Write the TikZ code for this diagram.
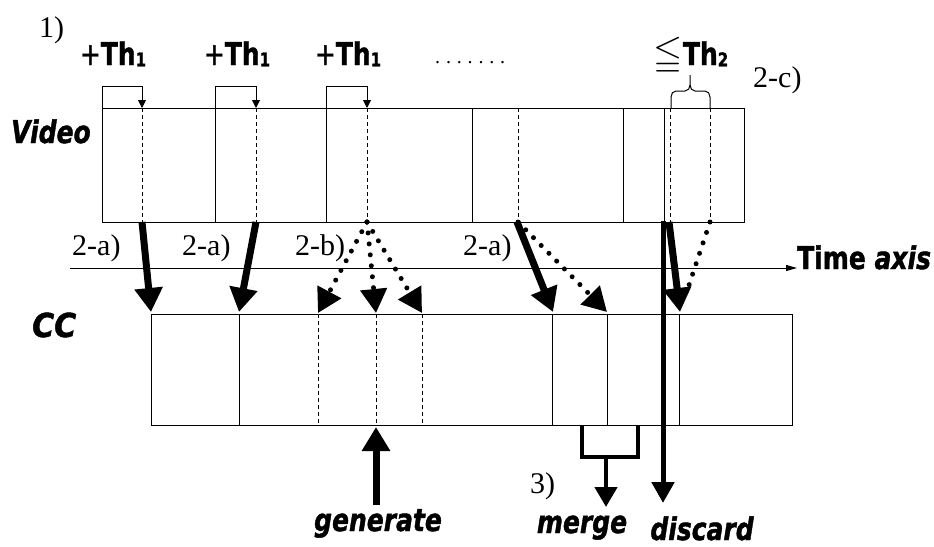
\documentclass[tikz,border=0pt]{standalone}
\usepackage{amssymb}
\usepackage{fontspec}
\setmainfont{Liberation Serif}
\newfontfamily\labfont{DejaVu Sans}[FakeBold=1.5]
\usetikzlibrary{arrows.meta}
% heavy display lettering: a little taller than the plain face
\newcommand{\tallbox}[2][1.25]{\scalebox{1}[#1]{#2}}
\newcommand{\thone}{\tallbox{\mdseries+\bfseries Th\raisebox{-1pt}{\fontsize{15}{15}\selectfont 1}}}

\begin{document}
\begin{tikzpicture}[x=1pt,y=-1pt,
  thinline/.style={line width=1pt},
  seg/.style={line width=0.9pt, dash pattern=on 4pt off 3pt},
  bigarrow/.style={line width=7pt, -{Triangle[width=27pt,length=24pt]}},
  dotarrow/.style={line width=5pt, line cap=round, dash pattern=on 0pt off 11pt,
                   -{Triangle[width=26pt,length=24pt]}},
  dotline/.style={line width=5pt, line cap=round, dash pattern=on 0pt off 11pt},
  tharrow/.style={thinline, -{Triangle[width=8pt,length=8pt]}},
  bold/.style={inner sep=0pt, font=\labfont\bfseries\fontsize{25}{25}\selectfont},
  boldit/.style={inner sep=0pt, font=\labfont\bfseries\itshape\fontsize{25}{25}\selectfont},
  num/.style={inner sep=0pt, font=\fontsize{30}{30}\selectfont},
  box/.style={draw, thinline, inner sep=0pt}
]
\useasboundingbox (0,0) rectangle (934,546);

% ---- the two strips -------------------------------------------------
\node[box, minimum width=642pt, minimum height=114pt] (video) at (423,165) {};
\node[box, minimum width=641pt, minimum height=111pt] (cc) at (471.5,369.5) {};

% shot boundaries of the video strip
\foreach \x in {215,326,472,623,664} \draw[thinline] (\x,108) -- (\x,222);
\foreach \x in {142,256,367,518,670,710} \draw[seg] (\x,108) -- (\x,222);
% caption boundaries of the CC strip
\foreach \x in {239,552,607,679} \draw[thinline] (\x,314) -- (\x,425);
\foreach \x in {318,376,422} \draw[seg] (\x,314) -- (\x,425);

% ---- labels --------------------------------------------------------
\node[boldit, anchor=base west] (lvideo) at (11,143) {\tallbox{Video}};
\node[inner sep=0pt, font=\labfont\bfseries\itshape\fontsize{30}{30}\selectfont,
      anchor=base west] (lcc) at (32,337) {\tallbox[1.1]{CC}};
\node[num, anchor=base west] (step1) at (39,37) {1)};

\node[bold, anchor=base] (th1a) at (113,65) {\thone};
\node[bold, anchor=base] (th1b) at (237,65) {\thone};
\node[bold, anchor=base] (th1c) at (348,65) {\thone};
\node[inner sep=0pt, font=\fontsize{20}{20}\selectfont, anchor=base west] (dots) at (435,63)
  {\makebox[70pt]{.\hfill.\hfill.\hfill.\hfill.\hfill.\hfill.}};
\node[bold, anchor=base] (th2) at (691,65)
  {\scalebox{1.5}{$\leqq$}\tallbox{Th\raisebox{-1pt}{\fontsize{15}{15}\selectfont 2}}};
\node[num, anchor=base west] (s2c) at (753,87) {2-c)};

\node[num, anchor=base west] (s2a1) at (72,255) {2-a)};
\node[num, anchor=base west] (s2a2) at (182,255) {2-a)};
\node[num, anchor=base west] (s2b)  at (295,255) {2-b)};
\node[num, anchor=base west] (s2a3) at (463,255) {2-a)};
\node[num, anchor=base west] (s3)   at (530,493) {3)};

\node[inner sep=0pt, font=\labfont\bfseries\fontsize{25}{25}\selectfont, anchor=base west]
  (taxis) at (797,269) {\tallbox{Time \itshape axis}};
\node[boldit, anchor=base] (lgen) at (378,531) {\tallbox{generate}};
\node[boldit, anchor=base] (lmerge) at (582,533) {\tallbox{merge}};
\node[boldit, anchor=base] (ldisc) at (702,540) {\tallbox{discard}};

% ---- threshold brackets on top of the video strip -------------------
\coordinate (b1) at (102,108); \coordinate (e1) at (142,108);
\coordinate (b2) at (215,108); \coordinate (e2) at (256,108);
\coordinate (b3) at (326,108); \coordinate (e3) at (367,108);
\draw[tharrow] (b1) |- (142,86) -- (e1);
\draw[tharrow] (b2) |- (256,86) -- (e2);
\draw[tharrow] (b3) |- (367,86) -- (e3);

% brace for Th2
\coordinate (brl) at (671,108); \coordinate (brr) at (710,108);
\draw[thinline] (brl) -- (671,97) to[out=90,in=180] (676,91) -- (685,91)
  to[out=0,in=-90] (690,85) -- (690,75);
\draw[thinline] (brr) -- (710,97) to[out=90,in=0] (705,91) -- (695,91)
  to[out=180,in=-90] (690,85);

% ---- time axis ----------------------------------------------------
\coordinate (tstart) at (70,268);
\draw[thinline, -{Triangle[width=6pt,length=11pt]}] (tstart) -- (taxis.west |- tstart);

% ---- mapping arrows from video to CC --------------------------------
\coordinate (v1) at (142,222); \coordinate (c1) at (151,312);
\coordinate (v2) at (256,222); \coordinate (c2) at (239,312);
\coordinate (v3) at (367,222);
\coordinate (c3l) at (318,313); \coordinate (c3m) at (376,313); \coordinate (c3r) at (422,313);
\coordinate (v4) at (517,222); \coordinate (c4) at (553,312);
\coordinate (v4d) at (518,222); \coordinate (c4d) at (607,312);
\coordinate (v5) at (669,222); \coordinate (c5) at (680,312);
\coordinate (v5d) at (710,222); \coordinate (c5d) at (689,285);

\draw[bigarrow] (v1) -- (c1);
\draw[bigarrow] (v2) -- (c2);
\draw[bigarrow] (v4) -- (c4);
\draw[dotarrow] (v3) -- (c3l);
\draw[dotarrow] (v3) -- (c3m);
\draw[dotarrow] (v3) -- (c3r);
\draw[dotarrow] (v4d) -- (c4d);
\draw[dotline] (v5d) -- (c5d);
\draw[bigarrow] (v5) -- (c5);

% ---- generate / merge / discard ------------------------------------
\coordinate (gbot) at (376,505); \coordinate (gtop) at (376,427);
\draw[bigarrow] (gbot) -- (gtop);

\coordinate (ml) at (582,425); \coordinate (mr) at (638,425);
\coordinate (mj) at (606,457); \coordinate (mend) at (606,507);
\draw[line width=4.5pt] (ml) |- (mr |- mj) -- (mr);
\draw[line width=4.5pt, -{Triangle[width=22pt,length=20pt]}] (mj) -- (mend);

\coordinate (dtop) at (663,221); \coordinate (dend) at (663,503);
\draw[line width=5pt, -{Triangle[width=22pt,length=21pt]}] (dtop) -- (dend);
\end{tikzpicture}
\end{document}
